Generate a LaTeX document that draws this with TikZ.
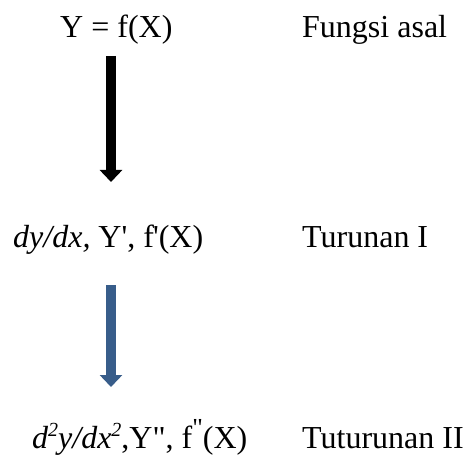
\documentclass[tikz,border=0pt]{standalone}
\usepackage{fontspec}
\usetikzlibrary{arrows.meta}
% Times-metric serif without TeX quote ligatures, so ' and " stay straight
\newfontfamily\tnr{Liberation Serif}
\definecolor{steelblue}{RGB}{56,93,138}
% small raised superscript
\newcommand{\hisup}[2][20bp]{\raisebox{0.36em}{\fontsize{#1}{24bp}\selectfont #2}}
\tikzset{
  lbl/.style={anchor=base west, inner sep=0pt, font=\tnr\fontsize{32bp}{38bp}\selectfont},
  fatarrow/.style={line width=10bp, -{Triangle[width=22bp,length=12bp]}}
}
\begin{document}
\begin{tikzpicture}[x=1bp,y=-1bp]
  \useasboundingbox (0,0) rectangle (472,468);
  % formulas (left) and their names (right)
  \node[lbl] (f0) at (60,38) {Y = f(X)};
  \node[lbl] (n0) at (302,38) {Fungsi asal};
  \node[lbl] (f1) at (13,247) {\textit{dy/dx,} Y', f\kern-1bp'(X)};
  \node[lbl] (n1) at (302,247) {Turunan I};
  \node[lbl] (f2) at (32,448) {\textit{d\hisup{2}y/dx\hisup{2}},Y", f\hisup[26bp]{"}(X)};
  \node[lbl] (n2) at (302,448) {Tuturunan II};
  % arrow ends
  \coordinate (a0s) at (111,56);
  \coordinate (a0e) at (111,182);
  \coordinate (a1s) at (111,285);
  \coordinate (a1e) at (111,387);
  \draw[fatarrow, black] (a0s) -- (a0e);
  \draw[fatarrow, steelblue] (a1s) -- (a1e);
\end{tikzpicture}
\end{document}
